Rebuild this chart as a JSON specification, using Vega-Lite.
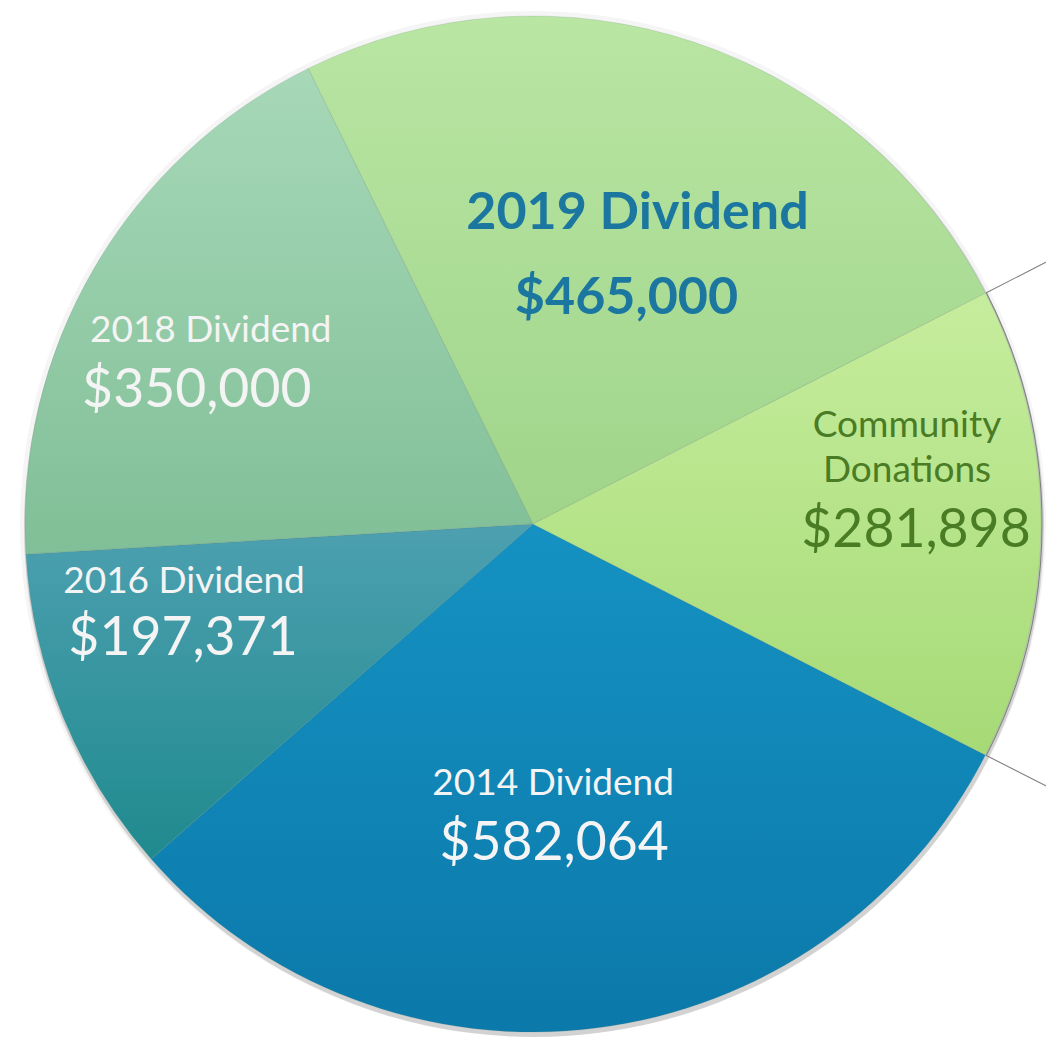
{
  "$schema": "https://vega.github.io/schema/vega-lite/v6.json",
  "width": 1046,
  "height": 1038,
  "autosize": {"type": "fit", "contains": "padding"},
  "padding": {"left": 20, "top": 10, "right": 0, "bottom": 0},
  "background": "white",
  "config": {"view": {"stroke": null}},
  "data": {
    "values": [
      {"category": "2014 Dividend", "value": 582064},
      {"category": "2016 Dividend", "value": 197371},
      {"category": "2018 Dividend", "value": 350000},
      {"category": "2019 Dividend", "value": 465000},
      {"category": "Community Donations", "value": 281898}
    ]
  },
  "encoding": {
    "theta": {"field": "value", "type": "quantitative", "stack": true, "scale": {"range": [2.0429, 8.3261]}},
    "order": {"field": "category", "type": "ordinal", "sort": "ascending"}
  },
  "layer": [
    {"mark": {"type": "arc", "outerRadius": 513, "fill": "#000000", "fillOpacity": 0.04}},
    {"mark": {"type": "arc", "outerRadius": 510, "fill": "#000000", "fillOpacity": 0.14, "xOffset": 1, "yOffset": 3}},
    {
      "mark": {"type": "arc", "outerRadius": 508, "stroke": "#5f7f70", "strokeWidth": 0.6, "strokeOpacity": 0.3},
      "encoding": {
        "fill": {
          "condition": [
            {"test": "datum.category === '2014 Dividend'", "value": {"gradient": "linear", "x1": 0, "y1": 0, "x2": 0, "y2": 1, "stops": [{"offset": 0, "color": "#1592c2"}, {"offset": 1, "color": "#0b79aa"}]}},
            {"test": "datum.category === '2016 Dividend'", "value": {"gradient": "linear", "x1": 0, "y1": 0, "x2": 0, "y2": 1, "stops": [{"offset": 0, "color": "#4da0b0"}, {"offset": 1, "color": "#1f8a8e"}]}},
            {"test": "datum.category === '2018 Dividend'", "value": {"gradient": "linear", "x1": 0, "y1": 0, "x2": 0, "y2": 1, "stops": [{"offset": 0, "color": "#a7d8b8"}, {"offset": 1, "color": "#80bf97"}]}},
            {"test": "datum.category === '2019 Dividend'", "value": {"gradient": "linear", "x1": 0, "y1": 0, "x2": 0, "y2": 1, "stops": [{"offset": 0, "color": "#b9e6a3"}, {"offset": 1, "color": "#9fd48a"}]}},
            {"test": "datum.category === 'Community Donations'", "value": {"gradient": "linear", "x1": 0, "y1": 0, "x2": 0, "y2": 1, "stops": [{"offset": 0, "color": "#c6ed9d"}, {"offset": 1, "color": "#a6da76"}]}}
          ],
          "value": "#cccccc"
        }
      }
    },
    {
      "mark": {"type": "arc", "innerRadius": 509, "outerRadius": 660, "fill": "transparent", "strokeWidth": 1.1, "clip": true},
      "encoding": {
        "stroke": {"condition": {"test": "datum.category === 'Community Donations'", "value": "#808080"}, "value": "transparent"}
      }
    },
    {
      "mark": {"type": "text", "radius": 300, "dx": -17, "dy": -27, "font": "Lato", "fontSize": 37, "fill": "#f4f4f4", "align": "center", "baseline": "alphabetic"},
      "encoding": {"text": {"condition": {"test": "datum.category === '2014 Dividend'", "field": "category", "type": "nominal"}, "value": ""}}
    },
    {
      "mark": {"type": "text", "radius": 300, "dx": -16, "dy": 38, "font": "Lato", "fontSize": 53.5, "fill": "#f4f4f4", "align": "center", "baseline": "alphabetic"},
      "encoding": {"text": {"condition": {"test": "datum.category === '2014 Dividend'", "field": "value", "type": "quantitative", "format": "$,.0f"}, "value": ""}}
    },
    {
      "mark": {"type": "text", "radius": 360, "dx": -16, "dy": -68, "font": "Lato", "fontSize": 37, "fill": "#f4f4f4", "align": "center", "baseline": "alphabetic"},
      "encoding": {"text": {"condition": {"test": "datum.category === '2016 Dividend'", "field": "category", "type": "nominal"}, "value": ""}}
    },
    {
      "mark": {"type": "text", "radius": 360, "dx": -17, "dy": -6, "font": "Lato", "fontSize": 53.5, "fill": "#f4f4f4", "align": "center", "baseline": "alphabetic"},
      "encoding": {"text": {"condition": {"test": "datum.category === '2016 Dividend'", "field": "value", "type": "quantitative", "format": "$,.0f"}, "value": ""}}
    },
    {
      "mark": {"type": "text", "radius": 360, "dx": -11, "dy": -1, "font": "Lato", "fontSize": 37, "fill": "#f4f4f4", "align": "center", "baseline": "alphabetic"},
      "encoding": {"text": {"condition": {"test": "datum.category === '2018 Dividend'", "field": "category", "type": "nominal"}, "value": ""}}
    },
    {
      "mark": {"type": "text", "radius": 360, "dx": -25, "dy": 64, "font": "Lato", "fontSize": 53.5, "fill": "#f4f4f4", "align": "center", "baseline": "alphabetic"},
      "encoding": {"text": {"condition": {"test": "datum.category === '2018 Dividend'", "field": "value", "type": "quantitative", "format": "$,.0f"}, "value": ""}}
    },
    {
      "mark": {"type": "text", "radius": 300, "dx": 10, "dy": -10, "font": "Lato", "fontSize": 52, "fontWeight": "bold", "fill": "#1b779f", "align": "center", "baseline": "alphabetic"},
      "encoding": {"text": {"condition": {"test": "datum.category === '2019 Dividend'", "field": "category", "type": "nominal"}, "value": ""}}
    },
    {
      "mark": {"type": "text", "radius": 300, "dx": -1, "dy": 75, "font": "Lato", "fontSize": 52, "fontWeight": "bold", "fill": "#1b779f", "align": "center", "baseline": "alphabetic"},
      "encoding": {"text": {"condition": {"test": "datum.category === '2019 Dividend'", "field": "value", "type": "quantitative", "format": "$,.0f"}, "value": ""}}
    },
    {
      "mark": {"type": "text", "radius": 380, "dx": -6, "dy": -87, "font": "Lato", "fontSize": 37, "fill": "#4a7c25", "align": "center", "baseline": "alphabetic", "lineBreak": " ", "lineHeight": 45},
      "encoding": {"text": {"condition": {"test": "datum.category === 'Community Donations'", "field": "category", "type": "nominal"}, "value": ""}}
    },
    {
      "mark": {"type": "text", "radius": 380, "dx": 3, "dy": 23, "font": "Lato", "fontSize": 53.5, "fill": "#4a7c25", "align": "center", "baseline": "alphabetic"},
      "encoding": {"text": {"condition": {"test": "datum.category === 'Community Donations'", "field": "value", "type": "quantitative", "format": "$,.0f"}, "value": ""}}
    }
  ]
}
